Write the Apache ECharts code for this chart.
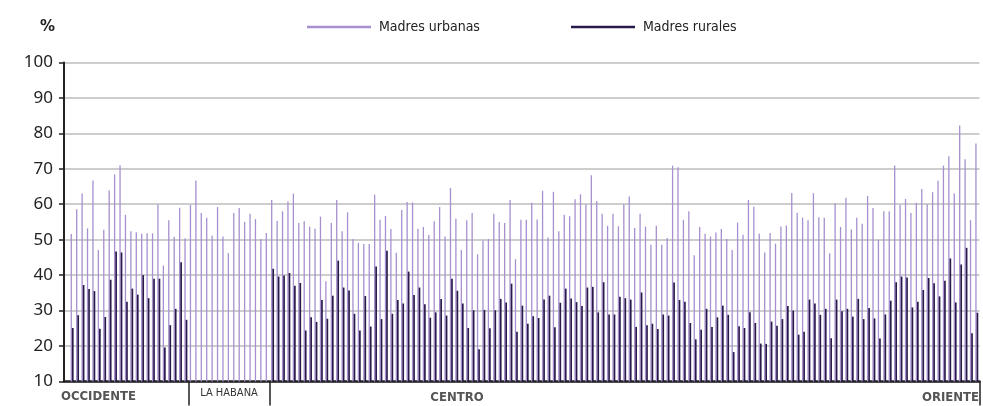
<!DOCTYPE html>
<html><head><meta charset="utf-8">
<script src="https://cdn.jsdelivr.net/npm/echarts@6/dist/echarts.min.js"></script>
<style>html,body{margin:0;padding:0;background:#fff}#c{width:983px;height:406px}</style>
</head><body><div id="c"></div>
<script>
// Municipalities (index 0 is an empty slot at the start of the axis)
const urbanValues = [null,
51.6,58.6,63.0,53.2,66.7,47.1,52.8,63.9,68.4,71.0,57.0,52.4,52.1,51.7,51.8,51.8,59.9,42.7,55.5,50.8,59.0,50.4,
59.8,66.7,57.5,56.2,51.1,59.2,50.9,46.2,57.5,58.9,55.0,57.3,55.8,50.2,51.9,
61.2,55.3,58.0,60.8,63.0,54.7,55.2,53.7,53.1,56.5,38.3,54.7,61.2,52.4,57.7,50.2,49.1,48.8,48.8,62.7,55.6,56.7,
53.0,46.3,58.4,60.6,60.5,53.1,53.6,51.3,55.2,59.2,50.9,64.6,55.9,47.1,55.5,57.5,45.9,49.8,50.2,57.3,55.0,54.7,
61.2,44.5,55.6,55.6,60.4,55.7,63.8,50.6,63.5,52.4,57.0,56.6,61.4,62.8,59.9,68.2,60.9,57.3,53.9,57.3,53.8,60.0,
62.2,53.3,57.3,53.7,48.6,53.9,48.6,50.5,70.9,70.4,55.6,58.0,45.6,53.6,51.7,50.9,52.0,53.0,50.2,47.1,54.8,51.4,
61.2,59.3,51.7,46.4,51.9,48.9,53.7,54.0,63.2,57.6,56.2,55.5,63.1,56.3,56.2,46.2,60.3,53.6,61.8,52.9,56.2,54.5,
62.3,58.9,50.0,58.0,58.0,70.9,59.8,61.5,57.5,60.4,64.3,60.0,63.4,66.6,70.9,73.5,63.0,82.2,72.7,55.5,77.1];
const ruralValues = [null,
25.1,28.7,37.2,36.1,35.5,24.9,28.2,38.7,46.7,46.4,32.5,36.2,34.5,40.0,33.5,39.0,39.0,19.6,25.9,30.5,43.6,27.4,
null,null,null,null,null,null,null,null,null,null,null,null,null,null,null,
41.8,39.6,39.9,40.6,37.0,37.8,24.4,28.1,26.8,33.0,27.7,34.2,44.1,36.5,35.7,29.1,24.4,34.1,25.5,42.4,27.6,46.9,
29.1,33.0,32.0,41.0,34.4,36.5,31.8,28.0,29.5,33.3,28.6,39.0,35.6,32.0,25.1,30.1,19.1,30.2,25.0,30.1,33.3,32.3,
37.6,24.0,31.4,26.3,28.4,27.9,33.1,34.2,25.3,32.2,36.2,33.4,32.4,31.3,36.5,36.7,29.5,38.0,28.9,28.9,33.9,33.5,
33.1,25.4,35.1,25.9,26.3,24.8,28.9,28.6,37.9,33.0,32.5,26.5,21.9,24.6,30.5,25.4,28.1,31.4,28.8,18.3,25.6,25.1,
29.5,26.5,20.7,20.6,26.9,25.7,27.6,31.3,30.0,23.2,24.0,33.1,32.0,28.8,30.5,22.2,33.1,29.8,30.5,28.3,33.3,27.6,
30.7,27.8,22.1,28.9,32.8,38.0,39.6,39.3,30.9,32.5,35.8,39.2,37.7,34.0,38.4,44.7,32.3,43.0,47.7,23.6,29.4];
const categories = urbanValues.map((v, i) => String(i));
const regionBoundaries = [23, 38]; // first index of LA HABANA and of CENTRO
const yTicks = {min: 10, max: 100, interval: 10};
const seriesNames = ['Madres urbanas', 'Madres rurales'];

const chart = echarts.init(document.getElementById('c'), null, {renderer: 'canvas'});
const narrow = "'Liberation Sans Narrow','DejaVu Sans Condensed',sans-serif";
const URB = '#a690cf', RUR = '#2a1a4c';
chart.setOption({
  animation: false,
  backgroundColor: '#fff',
  title: {text: '%', left: 35, top: 15, textStyle: {fontFamily: "'DejaVu Sans',sans-serif", fontSize: 15, fontWeight: 'bold', color: '#222'}},
  legend: [
    {data: [seriesNames[0]], left: 302, top: 15, icon: 'rect', itemWidth: 64, itemHeight: 2.5,
     textStyle: {fontFamily: narrow, fontSize: 14, color: '#222', padding: [0, 0, 0, 3]}},
    {data: [seriesNames[1]], left: 566, top: 15, icon: 'rect', itemWidth: 64, itemHeight: 2.5,
     textStyle: {fontFamily: narrow, fontSize: 14, color: '#222', padding: [0, 0, 0, 3]}}
  ],
  grid: {left: 64, right: 3.5, top: 62.4, bottom: 24.5, containLabel: false},
  xAxis: {
    type: 'category', data: categories, boundaryGap: true,
    axisLine: {lineStyle: {color: '#222', width: 2.5}},
    axisTick: {show: true, interval: (i) => regionBoundaries.indexOf(i) >= 0, length: 24, lineStyle: {color: '#222', width: 1.5}},
    axisLabel: {show: false},
    splitLine: {show: false}
  },
  yAxis: {
    type: 'value', min: yTicks.min, max: yTicks.max, interval: yTicks.interval,
    axisLine: {show: true, lineStyle: {color: '#222', width: 2}},
    axisTick: {show: true, length: 5, lineStyle: {color: '#222', width: 1.5}},
    axisLabel: {fontFamily: "'Noto Sans',sans-serif", fontSize: 17, color: '#222', margin: 11},
    splitLine: {lineStyle: {color: '#bdbdbd', width: 1.5}}
  },
  series: [
    {name: seriesNames[0], type: 'bar', data: urbanValues, barWidth: 1.3, barGap: '0%', itemStyle: {color: URB}},
    {name: seriesNames[1], type: 'bar', data: ruralValues, barWidth: 1.7, barGap: '0%', itemStyle: {color: RUR}}
  ],
  graphic: [
    {type: 'text', left: 61, top: 390, style: {text: 'OCCIDENTE', font: "bold 13px 'DejaVu Sans Condensed',sans-serif", fill: '#555'}},
    {type: 'text', x: 229, y: 393, style: {text: 'LA HABANA', font: "11px 'DejaVu Sans Condensed',sans-serif", fill: '#333', align: 'center', verticalAlign: 'middle'}},
    {type: 'text', x: 457, y: 398, style: {text: 'CENTRO', font: "bold 13px 'DejaVu Sans Condensed',sans-serif", fill: '#555', align: 'center', verticalAlign: 'middle'}},
    {type: 'text', x: 979, y: 398, style: {text: 'ORIENTE', font: "bold 13px 'DejaVu Sans Condensed',sans-serif", fill: '#555', align: 'right', verticalAlign: 'middle'}}
  ]
});
</script></body></html>
